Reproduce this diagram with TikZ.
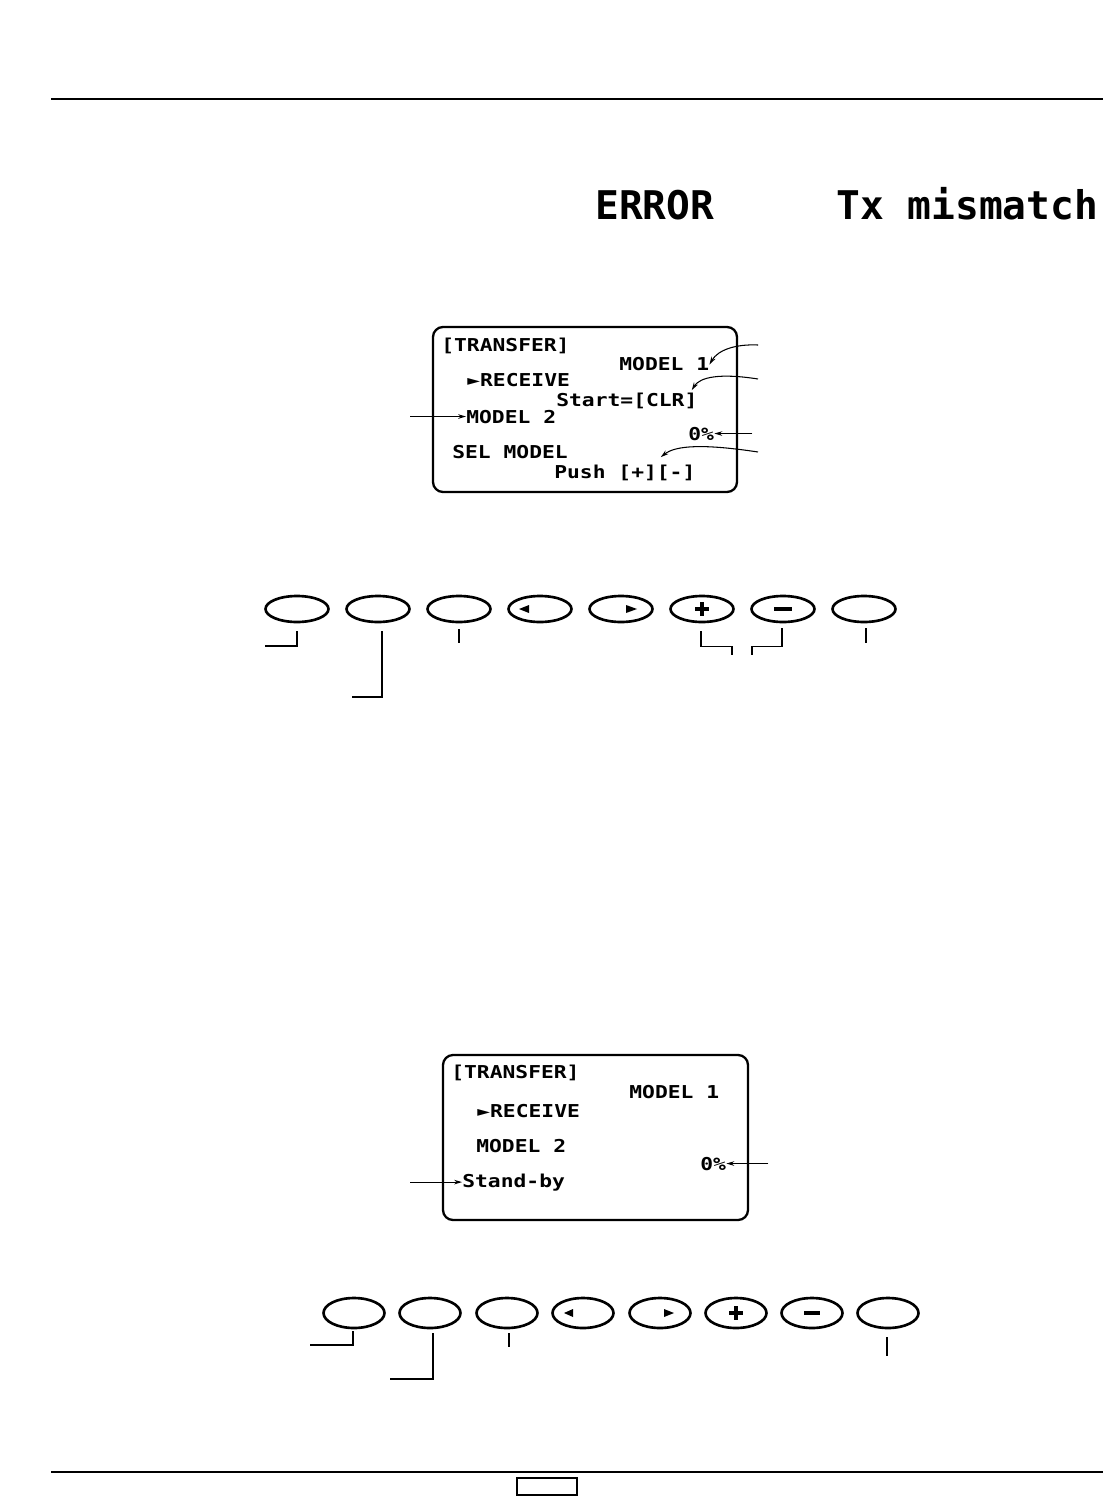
\documentclass[tikz,border=0pt]{standalone}
\usepackage{fontspec}
\newfontfamily\lcdfont[FakeStretch=1.2]{DejaVu Sans Mono Bold}
\newfontfamily\lcdbig{DejaVu Sans Mono Bold}
\usetikzlibrary{arrows.meta, positioning, calc, shapes.geometric}

\begin{document}
\begin{tikzpicture}[x=0.02cm, y=-0.02cm, >={Stealth[length=4.5pt,width=2.6pt]},
  lcd/.style={draw, line width=1.3pt, rounded corners=0.2cm},
  lcdtxt/.style={anchor=base west, inner sep=0pt, font=\lcdfont\fontsize{10.1}{12}\selectfont},
  bigtxt/.style={anchor=base west, inner sep=0pt, font=\lcdbig\fontsize{22.5}{26}\selectfont},
  btn/.style={draw, ellipse, line width=1.5pt, inner sep=0pt, minimum width=1.26cm, minimum height=0.52cm},
  btnb/.style={btn, minimum width=1.22cm, minimum height=0.6cm},
  lead/.style={line width=0.6pt},
  rule/.style={line width=1.4pt}]
  \useasboundingbox (0,0) rectangle (1115,1496);
  % Page rules
  \coordinate (tl) at (51,99);
  \coordinate (tr) at (1103,99);
  \draw[rule] (tl) -- (tr);
  \coordinate (bl) at (51,1472);
  \coordinate (br) at (1103,1472);
  \draw[rule] (bl) -- (br);
  \node[draw, line width=0.6pt, inner sep=0pt, minimum width=1.2cm, minimum height=0.34cm] (pg) at (547,1486.5) {};
  % Error message
  \node[bigtxt] (err) at (595,220) {ERROR};
  \node[bigtxt] (txm) at (836,220) {Tx mismatch};
  % First screen
  \draw[lcd] (433,327) rectangle (737,492);
  \node[lcdtxt] (tr1) at (441,352) {[TRANSFER]};
  \node[lcdtxt] (m1) at (619,371) {MODEL 1};
  \node[lcdtxt] (rcv) at (467,387) {►RECEIVE};
  \node[lcdtxt] (st) at (556,406) {Start=[CLR]};
  \node[lcdtxt] (m2) at (466,423) {MODEL 2};
  \node[lcdtxt] (pc) at (688,440) {0\%};
  \node[lcdtxt] (sel) at (452,458) {SEL MODEL};
  \node[lcdtxt] (push) at (554,478) {Push [+][-]};
  \coordinate (m2in) at ($(m2.west)+(-56,0)$);
  \coordinate (m1in) at (758,345);
  \coordinate (stin) at (758,379);
  \coordinate (pcin) at ($(pc.east)+(38,0)$);
  \coordinate (pushin) at (758,452);
  \draw[lead,->] (m2in) -- (m2.west);
  \draw[lead,->] (m1in) .. controls (735,344) and (718,350) .. (m1.east);
  \draw[lead,->] (stin) .. controls (720,373) and (700,377) .. ($(st.north east)+(-6,-2)$);
  \draw[lead,->] (pcin) -- (pc.east);
  \draw[lead,->] (pushin) .. controls (705,444) and (676,445) .. ($(push.north east)+(-35,-7)$);
  % First key row
  \foreach \x [count=\i] in {297,378,459,540,621,702,783,864}
    \node[btn] (a\i) at (\x,609) {};
  \fill ($(a4)+(-21,0)$) -- ++(10,-4) -- ++(0,8) -- cycle;
  \fill ($(a5)+(16,0)$) -- ++(-11,-4) -- ++(0,8) -- cycle;
  \draw[line width=2.3pt] ($(a6)+(-7,0)$) -- ++(14,0) ($(a6)+(0,-7)$) -- ++(0,14);
  \draw[line width=2.3pt] ($(a7)+(-9,0)$) -- ++(18,0);
  \coordinate (a1l) at (265,646);
  \coordinate (a2l) at (352,697);
  \coordinate (a3e) at (459,643);
  \coordinate (a6e) at (732,655);
  \coordinate (a7e) at (752,655);
  \coordinate (a8e) at (866,643);
  \draw[lead] ($(a1.south)+(0,8)$) |- (a1l);
  \draw[lead] ($(a2.south)+(4,8)$) |- (a2l);
  \draw[lead] ($(a3.south)+(0,6)$) -- (a3e);
  \draw[lead] ($(a6.south)+(-1,8)$) -- ++(0,15) -| (a6e);
  \draw[lead] ($(a7.south)+(-1,5)$) -- ++(0,18) -| (a7e);
  \draw[lead] ($(a8.south)+(2,5)$) -- (a8e);
  % Second screen
  \draw[lcd] (443,1055) rectangle (748,1220);
  \node[lcdtxt] (tr2) at (451,1078) {[TRANSFER]};
  \node[lcdtxt] (m1b) at (629,1098) {MODEL 1};
  \node[lcdtxt] (rcvb) at (477,1117) {►RECEIVE};
  \node[lcdtxt] (m2b) at (476,1152) {MODEL 2};
  \node[lcdtxt] (pcb) at (700,1170) {0\%};
  \node[lcdtxt] (sb) at (462,1187) {Stand-by};
  \coordinate (sbin) at ($(sb.west)+(-52,0)$);
  \coordinate (pcbin) at ($(pcb.east)+(42,0)$);
  \draw[lead,->] (sbin) -- (sb.west);
  \draw[lead,->] (pcbin) -- (pcb.east);
  % Second key row
  \foreach \x [count=\i] in {354,430,507,583,660,736,812,888}
    \node[btnb] (c\i) at (\x,1313) {};
  \fill ($(c4)+(-19,0)$) -- ++(9,-4) -- ++(0,8) -- cycle;
  \fill ($(c5)+(14,0)$) -- ++(-10,-4) -- ++(0,8) -- cycle;
  \draw[line width=2.3pt] ($(c6)+(-7,0)$) -- ++(14,0) ($(c6)+(0,-7)$) -- ++(0,14);
  \draw[line width=2.3pt] ($(c7)+(-8,0)$) -- ++(16,0);
  \coordinate (c1l) at (310,1345);
  \coordinate (c2l) at (390,1379);
  \coordinate (c3e) at (509,1347);
  \coordinate (c8e) at (887,1356);
  \draw[lead] ($(c1.south)+(-1,2)$) |- (c1l);
  \draw[lead] ($(c2.south)+(3,4)$) |- (c2l);
  \draw[lead] ($(c3.south)+(2,4)$) -- (c3e);
  \draw[lead] ($(c8.south)+(-1,8)$) -- (c8e);
\end{tikzpicture}
\end{document}
